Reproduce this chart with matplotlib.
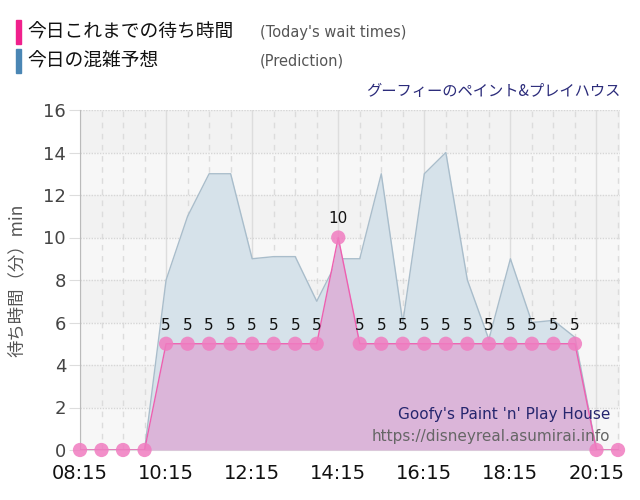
import numpy as np
import matplotlib
matplotlib.use('Agg')
import matplotlib.pyplot as plt

plt.rcParams['font.family'] = ['DejaVu Sans', 'Noto Sans CJK JP']

# Data: one point every 30 minutes, 08:15 .. 20:45
times = ['08:15', '08:45', '09:15', '09:45', '10:15', '10:45', '11:15', '11:45',
         '12:15', '12:45', '13:15', '13:45', '14:15', '14:45', '15:15', '15:45',
         '16:15', '16:45', '17:15', '17:45', '18:15', '18:45', '19:15', '19:45',
         '20:15', '20:45']
wait_today = [0, 0, 0, 0, 5, 5, 5, 5, 5, 5, 5, 5, 10, 5, 5, 5,
              5, 5, 5, 5, 5, 5, 5, 5, 0, 0]
prediction = [0, 0, 0, 0, 8, 11, 13, 13, 9, 9.1, 9.1, 7, 9, 9, 13, 6,
              13, 14, 8, 5.2, 9, 6, 6.1, 5.3, 0, 0]
tick_labels = ['08:15', '10:15', '12:15', '14:15', '16:15', '18:15', '20:15']


def to_minutes(t):
    h, m = t.split(':')
    return int(h) * 60 + int(m)


x = np.array([to_minutes(t) for t in times])
x0 = x[0]
ticks = [to_minutes(t) for t in tick_labels]

fig = plt.figure(figsize=(6.4, 5.0), dpi=100)
ax = fig.add_axes([0.125, 0.10, 0.844, 0.68])

# background bands
ax.set_facecolor('#f7f7f7')
for lo in range(0, 16, 2):
    if (lo // 2) % 2 == 1:
        ax.axhspan(lo, lo + 2, color='#f2f2f2', zorder=0, lw=0)

# grid
for t in range(x0, x[-1] + 1, 30):
    if t in ticks:
        ax.axvline(t, color='#dddddd', lw=1, zorder=1)
    else:
        ax.axvline(t, color='#dcdcdc', lw=1, ls=(0, (4, 4)), zorder=1)
for yv in range(2, 17, 2):
    ax.axhline(yv, color='#d6d6d6', lw=1, ls=(0, (1, 1)), zorder=1)

# prediction area
ax.fill_between(x, prediction, color='#d6e2ea', zorder=2, lw=0)
ax.plot(x, prediction, color='#a9bdcb', lw=1, zorder=2)

# today's wait times
ax.fill_between(x, wait_today, color='#dbb5d9', zorder=3, lw=0)
ax.plot(x, wait_today, color='#ee5fb0', lw=1, zorder=4)
ax.scatter(x, wait_today, s=105, color='#f07cc0', alpha=0.85, zorder=5,
           clip_on=False, edgecolors='none')
for xi, v in zip(x, wait_today):
    if v > 0:
        ax.annotate(str(v), (xi, v), xytext=(0, 8), textcoords='offset points',
                    ha='center', va='bottom', fontsize=11, color='#111111', zorder=6)

ax.set_xlim(x0, x0 + 753)
ax.set_ylim(0, 16)
ax.set_xticks(ticks)
ax.set_xticklabels(tick_labels, fontsize=14, color='#111111')
ax.set_yticks(range(0, 17, 2))
ax.tick_params(axis='y', labelsize=13, labelcolor='#444444', length=8,
               color='#dddddd', pad=2)
ax.tick_params(axis='x', length=0, pad=10)
for side in ['top', 'right']:
    ax.spines[side].set_visible(False)
ax.spines['left'].set_color('#bbbbbb')
ax.spines['bottom'].set_color('#dddddd')
ax.set_ylabel('待ち時間（分）min', fontsize=12.5, color='#555555',
              family=['Noto Sans CJK JP'], labelpad=2)
ax.yaxis.set_label_coords(-0.1, 0.5)

# legend header
fig.patches.append(plt.Rectangle((16 / 640, 1 - 44 / 500), 5 / 640, 24 / 500,
                                 transform=fig.transFigure, color='#f0208c'))
fig.patches.append(plt.Rectangle((16 / 640, 1 - 73 / 500), 5 / 640, 24 / 500,
                                 transform=fig.transFigure, color='#4a86b4'))
fig.text(27 / 640, 1 - 32 / 500, '今日これまでの待ち時間', fontsize=13.5,
         va='center', family=['Noto Sans CJK JP'], color='#111111')
fig.text(27 / 640, 1 - 61 / 500, '今日の混雑予想', fontsize=13.5,
         va='center', family=['Noto Sans CJK JP'], color='#111111')
fig.text(260 / 640, 1 - 32 / 500, "(Today's wait times)", fontsize=10.5,
         va='center', color='#555555')
fig.text(260 / 640, 1 - 61 / 500, '(Prediction)', fontsize=10.5,
         va='center', color='#555555')
fig.text(620 / 640, 1 - 92 / 500, 'グーフィーのペイント&プレイハウス', fontsize=11,
         ha='right', va='center', family=['Noto Sans CJK JP'], color='#2b2b7a')

# watermark
fig.text(610 / 640, 1 - 415 / 500, "Goofy's Paint 'n' Play House", fontsize=11,
         ha='right', va='center', color='#26266e')
fig.text(610 / 640, 1 - 436 / 500, 'https://disneyreal.asumirai.info', fontsize=11,
         ha='right', va='center', color='#666666')

fig.savefig('out.png', dpi=100)
